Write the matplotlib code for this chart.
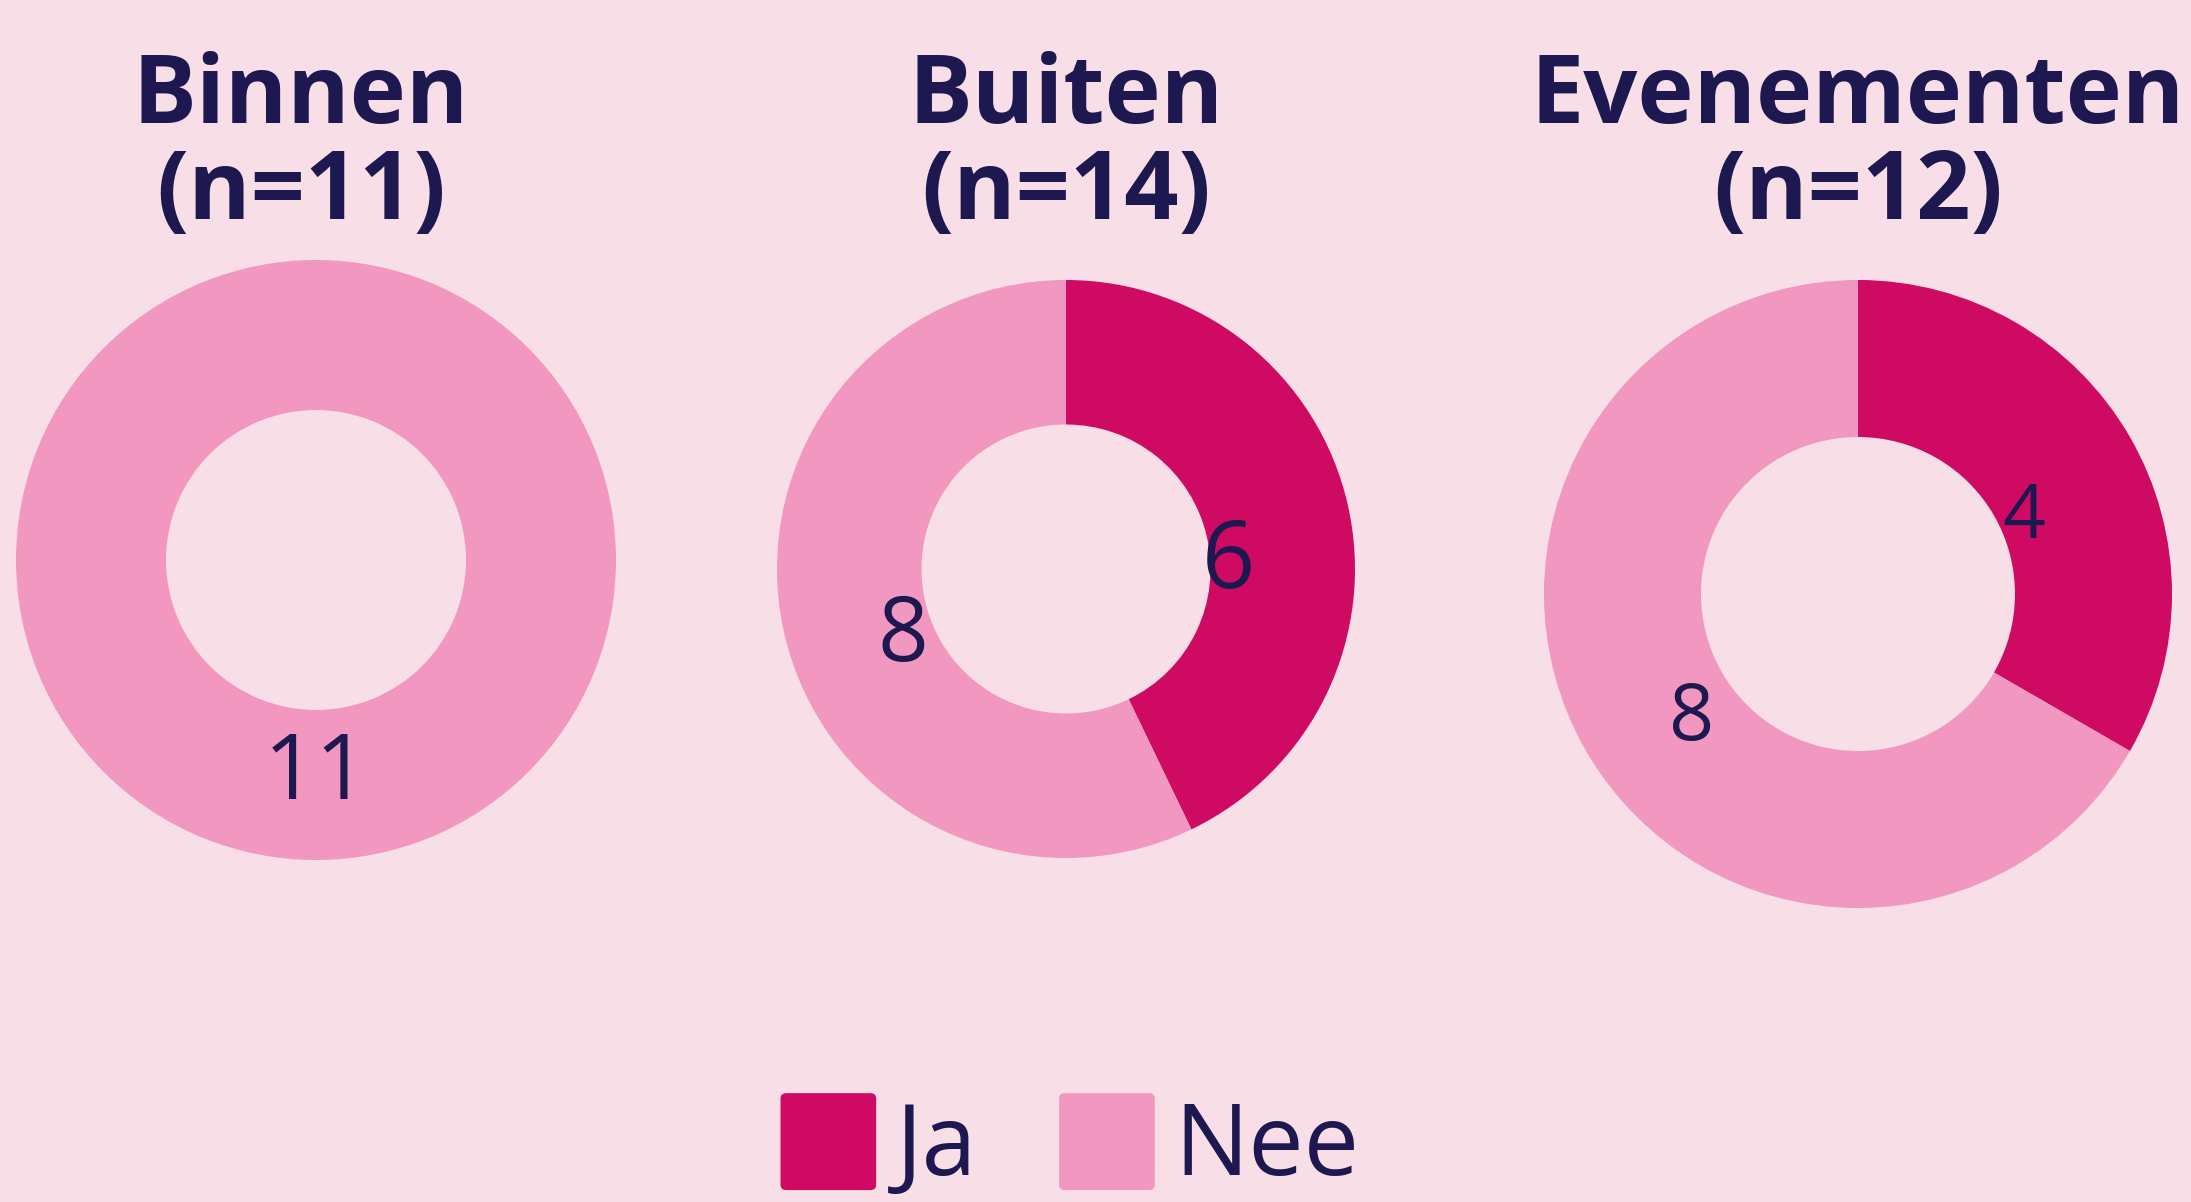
import matplotlib

matplotlib.use("Agg")

import matplotlib.pyplot as plt
from matplotlib.legend_handler import HandlerPatch
from matplotlib.patches import FancyBboxPatch, Patch

# data
groups = ["Binnen", "Buiten", "Evenementen"]
ja_counts = [0, 6, 4]
nee_counts = [11, 8, 8]
legend_labels = ["Ja", "Nee"]

JA_COLOR = "#CF0A62"
NEE_COLOR = "#F197C0"
BG = "#F8DFE7"
TEXT = "#1E1850"

plt.rcParams["font.family"] = ["Open Sans", "DejaVu Sans"]

W, H = 2191, 1202
fig = plt.figure(figsize=(W / 100, H / 100), dpi=100, facecolor=BG)
ax = fig.add_axes([0, 0, 1, 1])
ax.set_xlim(0, W)
ax.set_ylim(0, H)
ax.set_aspect("equal")
ax.axis("off")

# layout per donut: centre (px, y up), outer radius, title x, label distance,
# label sizes, label drop (px below the wedge mid-line)
layout = [
    ((316, 642), 300, 301, 0.613, [66], [22]),
    ((1066, 633), 289, 1066, 0.577, [67, 64], [23, 23]),
    ((1858, 608), 314, 1858, 0.61, [54, 57], [13, 22]),
]


class RoundedHandler(HandlerPatch):
    def create_artists(self, legend, orig_handle, xdescent, ydescent,
                       width, height, fontsize, trans):
        p = FancyBboxPatch((-xdescent, -ydescent), width, height,
                           boxstyle="round,pad=0,rounding_size=4",
                           facecolor=orig_handle.get_facecolor(),
                           edgecolor="none", transform=trans)
        return [p]


for name, ja, nee, lay in zip(groups, ja_counts, nee_counts, layout):
    (cx, cy), r, tx, pdist, sizes, drops = lay
    total = ja + nee
    vals, cols = [], []
    for v, c in ((ja, JA_COLOR), (nee, NEE_COLOR)):
        if v > 0:
            vals.append(v)
            cols.append(c)
    _, _, autotexts = ax.pie(
        vals, colors=cols, center=(cx, cy), radius=r, startangle=90,
        counterclock=False, wedgeprops=dict(width=r * 0.5, linewidth=0),
        autopct=lambda p, t=total: f"{round(p * t / 100)}", pctdistance=pdist,
        textprops=dict(color=TEXT),
    )
    for t, fs, drop in zip(autotexts, sizes, drops):
        t.set_fontsize(fs)
        x, y = t.get_position()
        # va='center' centres the line box; digits sit ~0.1 em higher
        t.set_position((x, y - drop - 0.097 * fs * 100 / 72))
    ax.text(tx, H - 123, name, ha="center", va="baseline", fontsize=68.5,
            fontweight="bold", color=TEXT)
    ax.text(tx, H - 219, f"(n={total})", ha="center", va="baseline", fontsize=68.5,
            fontweight="bold", color=TEXT)

ax.set_xlim(0, W)
ax.set_ylim(0, H)

handles = [Patch(facecolor=JA_COLOR), Patch(facecolor=NEE_COLOR)]
fig.legend(handles, legend_labels, loc="center", bbox_to_anchor=(1070 / W, 0.0465),
           ncol=2, frameon=False, fontsize=71, handlelength=0.97, handleheight=1.135,
           handletextpad=0.2, columnspacing=0.83, labelcolor=TEXT,
           handler_map={Patch: RoundedHandler()})

fig.savefig("out.png", dpi=100, facecolor=BG)
